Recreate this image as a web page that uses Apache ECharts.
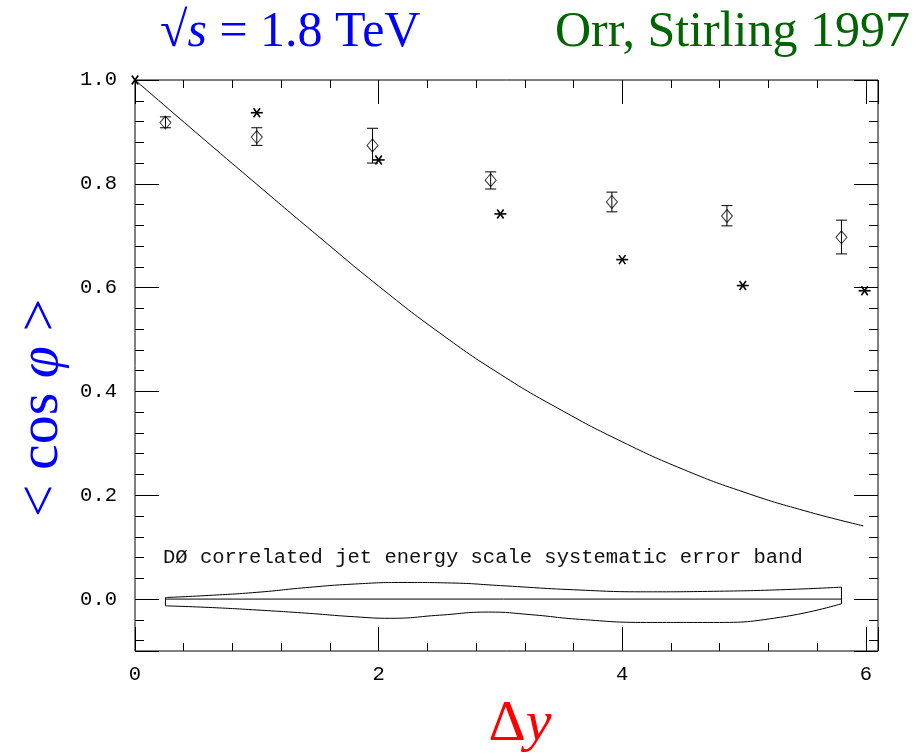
<!DOCTYPE html>
<html>
<head>
<meta charset="utf-8">
<script src="https://cdn.jsdelivr.net/npm/echarts@6/dist/echarts.min.js"></script>
<style>
  html, body { margin: 0; padding: 0; background: #fff; }
  #chart { width: 923px; height: 754px; }
</style>
</head>
<body>
<div id="chart"></div>
<script>
var dom = document.getElementById('chart');
var myChart = echarts.init(dom);

// theory curve (solid line)
var curveX = [0, 0.5, 1, 1.5, 2, 2.5, 3, 3.5, 4, 4.5, 5, 5.5, 5.98];
var curveY = [1.0, 0.899, 0.799, 0.700, 0.603, 0.513, 0.433, 0.364, 0.303, 0.250, 0.206, 0.170, 0.141];

// D0 data (diamonds with error bars)
var dataX = [0.25, 1.0, 1.95, 2.92, 3.915, 4.86, 5.80];
var dataY = [0.918, 0.890, 0.874, 0.807, 0.765, 0.738, 0.697];
var dataLo = [0.908, 0.874, 0.840, 0.790, 0.746, 0.719, 0.665];
var dataHi = [0.929, 0.908, 0.907, 0.823, 0.784, 0.758, 0.730];

// asterisks
var starX = [0, 1.0, 2.0, 3.0, 4.0, 4.99, 5.99];
var starY = [1.0, 0.937, 0.846, 0.742, 0.654, 0.604, 0.594];

// systematic error band
var bandUpX = [0.25, 0.6, 1.0, 1.4, 1.8, 2.2, 2.6, 3.0, 3.6, 4.2, 4.75, 5.3, 5.8];
var bandUpY = [0.003, 0.007, 0.013, 0.022, 0.029, 0.032, 0.031, 0.026, 0.018, 0.014, 0.015, 0.018, 0.023];
var bandLoX = [0.25, 0.6, 1.0, 1.4, 1.8, 2.1, 2.5, 2.9, 3.25, 3.65, 4.2, 4.75, 5.3, 5.8];
var bandLoY = [-0.013, -0.016, -0.021, -0.027, -0.034, -0.037, -0.031, -0.025, -0.030, -0.039, -0.045, -0.045, -0.035, -0.009];

var xTickLabels = ['0', '2', '4', '6'];
var yTickLabels = ['0.0', '0.2', '0.4', '0.6', '0.8', '1.0'];

function zip(a, b) {
  var out = [];
  for (var i = 0; i < a.length; i++) out.push([a[i], b[i]]);
  return out;
}

var errData = [];
for (var i = 0; i < dataX.length; i++) {
  errData.push([dataX[i], dataY[i], dataLo[i], dataHi[i]]);
}

var monoFont = '"Liberation Mono", "DejaVu Sans Mono", monospace';
var serifFont = '"Liberation Serif", "DejaVu Serif", serif';

function xAxisDef(pos, major) {
  return {
    type: 'value', position: pos, min: 0, max: 6.1,
    minInterval: major ? 2 : 0.4, maxInterval: major ? 2 : 0.4,
    axisLine: { show: false, onZero: false },
    splitLine: { show: false },
    axisTick: { show: true, inside: true, length: major ? 24 : 8, lineStyle: { color: '#000', width: 1 } },
    axisLabel: {
      show: major && pos === 'bottom', margin: 13, color: '#000', fontFamily: monoFont, fontSize: 20.5,
      formatter: function (v) {
        var s = String(Math.round(v));
        return (Math.abs(v - Math.round(v)) < 1e-6 && xTickLabels.indexOf(s) >= 0) ? s : '';
      }
    }
  };
}

function yAxisDef(pos, major) {
  return {
    type: 'value', position: pos, min: -0.1, max: 1.0,
    minInterval: major ? 0.2 : 0.04, maxInterval: major ? 0.2 : 0.04,
    axisLine: { show: false, onZero: false },
    splitLine: { show: false },
    axisTick: { show: true, inside: true, length: major ? 24 : 9, lineStyle: { color: '#000', width: 1 } },
    axisLabel: {
      show: major && pos === 'left', margin: 18, color: '#000', fontFamily: monoFont, fontSize: 20.5,
      formatter: function (v) {
        var s = v.toFixed(1);
        return (Math.abs(v * 5 - Math.round(v * 5)) < 1e-6 && yTickLabels.indexOf(s) >= 0) ? s : '';
      }
    }
  };
}

function renderErr(params, api) {
  var x = api.value(0);
  var p1 = api.coord([x, api.value(3)]);
  var p2 = api.coord([x, api.value(2)]);
  var w = 5.5;
  var st = { stroke: '#000', lineWidth: 1 };
  return {
    type: 'group',
    children: [
      { type: 'line', shape: { x1: p1[0], y1: p1[1], x2: p2[0], y2: p2[1] }, style: st },
      { type: 'line', shape: { x1: p1[0] - w, y1: p1[1], x2: p1[0] + w, y2: p1[1] }, style: st },
      { type: 'line', shape: { x1: p2[0] - w, y1: p2[1], x2: p2[0] + w, y2: p2[1] }, style: st }
    ]
  };
}

function renderStar(params, api) {
  var p = api.coord([api.value(0), api.value(1)]);
  var st = { stroke: '#000', lineWidth: 1.6 };
  var h = params.dataIndex === 0 ? 0 : 6;
  return {
    type: 'group',
    children: [
      { type: 'line', shape: { x1: p[0] - h, y1: p[1], x2: p[0] + h, y2: p[1] }, style: st },
      { type: 'line', shape: { x1: p[0] - 3.2, y1: p[1] - 4.5, x2: p[0] + 3.2, y2: p[1] + 4.5 }, style: st },
      { type: 'line', shape: { x1: p[0] + 3.2, y1: p[1] - 4.5, x2: p[0] - 3.2, y2: p[1] + 4.5 }, style: st }
    ]
  };
}

var lineStyle = { color: '#000', width: 1 };
var blueR = { fontFamily: serifFont, fontSize: 50, fontWeight: 'normal', color: '#0000ff' };
var blueI = { fontFamily: serifFont, fontSize: 50, fontWeight: 'normal', fontStyle: 'italic', color: '#0000ff' };

option = {
  backgroundColor: '#fff',
  animation: false,
  title: [{
    text: '{r|√}{i|s}{r| = 1.8 TeV}',
    left: 160, top: 8, padding: 0,
    textStyle: { fontWeight: 'normal', rich: { r: blueR, i: blueI } }
  }, {
    text: 'Orr, Stirling 1997',
    left: 555, top: 8, padding: 0,
    textStyle: { fontFamily: serifFont, fontSize: 50, fontWeight: 'normal', color: '#006400' }
  }],
  grid: { left: 135, top: 80, width: 743, height: 571, show: true, borderColor: '#000', borderWidth: 1, backgroundColor: 'transparent' },
  xAxis: [xAxisDef('bottom', true), xAxisDef('bottom', false), xAxisDef('top', true), xAxisDef('top', false)],
  yAxis: [yAxisDef('left', true), yAxisDef('left', false), yAxisDef('right', true), yAxisDef('right', false)],
  graphic: [{
    type: 'text', x: 42, y: 408, rotation: Math.PI / 2,
    style: {
      text: '{r|< cos }{i|φ}{r| >}', fill: '#0000ff',
      align: 'center', verticalAlign: 'middle',
      rich: {
        r: { fontFamily: serifFont, fontSize: 58, fill: '#0000ff' },
        i: { fontFamily: serifFont, fontSize: 58, fontStyle: 'italic', fill: '#0000ff' }
      }
    }
  }, {
    type: 'text', x: 520, y: 725,
    style: {
      text: '{r|Δ}{i|y}', fill: '#ff0000',
      align: 'center', verticalAlign: 'middle',
      rich: {
        r: { fontFamily: serifFont, fontSize: 58, fill: '#ff0000' },
        i: { fontFamily: serifFont, fontSize: 58, fontStyle: 'italic', fill: '#ff0000' }
      }
    }
  }, {
    type: 'text', x: 163, y: 558,
    style: {
      text: 'DØ correlated jet energy scale systematic error band', fill: '#111',
      fontFamily: monoFont, fontSize: 20.5, align: 'left', verticalAlign: 'middle'
    }
  }],
  series: [{
    name: 'theory', type: 'line', smooth: true, symbol: 'none',
    lineStyle: lineStyle, data: zip(curveX, curveY)
  }, {
    name: 'bandUp', type: 'line', smooth: true, symbol: 'none',
    lineStyle: lineStyle, data: zip(bandUpX, bandUpY)
  }, {
    name: 'bandLo', type: 'line', smooth: true, symbol: 'none',
    lineStyle: lineStyle, data: zip(bandLoX, bandLoY)
  }, {
    name: 'bandLeft', type: 'line', symbol: 'none', lineStyle: lineStyle,
    data: [[bandUpX[0], bandUpY[0]], [bandLoX[0], bandLoY[0]]]
  }, {
    name: 'bandRight', type: 'line', symbol: 'none', lineStyle: lineStyle,
    data: [[bandUpX[bandUpX.length - 1], bandUpY[bandUpY.length - 1]], [bandLoX[bandLoX.length - 1], bandLoY[bandLoY.length - 1]]]
  }, {
    name: 'bandZero', type: 'line', symbol: 'none', lineStyle: lineStyle,
    data: [[bandUpX[0], 0], [bandUpX[bandUpX.length - 1], 0]]
  }, {
    name: 'err', type: 'custom', renderItem: renderErr, data: errData, z: 3
  }, {
    name: 'D0', type: 'scatter', symbol: 'diamond', symbolSize: [11, 13],
    itemStyle: { color: 'rgba(0,0,0,0)', borderColor: '#000', borderWidth: 1 },
    data: zip(dataX, dataY), z: 4
  }, {
    name: 'stars', type: 'custom', renderItem: renderStar, clip: false,
    data: zip(starX, starY), z: 5
  }]
};

if (option && typeof option === "object") {
  myChart.setOption(option, true);
}
</script>
</body>
</html>
